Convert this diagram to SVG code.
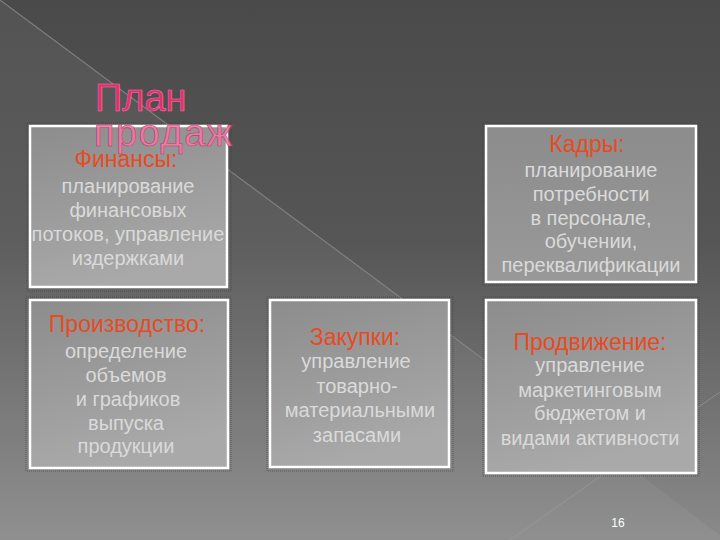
<svg xmlns="http://www.w3.org/2000/svg" width="720" height="540" viewBox="0 0 720 540">
  <defs>
    <linearGradient id="bg" x1="0" y1="0" x2="0" y2="1">
      <stop offset="0" stop-color="#4a4a4a"/>
      <stop offset="0.45" stop-color="#565656"/>
      <stop offset="1" stop-color="#8a8a8a"/>
    </linearGradient>
    <linearGradient id="boxfill" x1="0" y1="0" x2="0.3" y2="1">
      <stop offset="0" stop-color="#8c8c8c"/>
      <stop offset="1" stop-color="#a9a9a9"/>
    </linearGradient>
    <linearGradient id="boxfill2" x1="0" y1="0" x2="0" y2="1">
      <stop offset="0" stop-color="#8c8c8c"/>
      <stop offset="1" stop-color="#999999"/>
    </linearGradient>
  </defs>
  <style>
    .box { stroke: #ffffff; stroke-width: 2.5; }
    .shadow { fill: none; stroke: #3c3c3c; stroke-width: 1; stroke-dasharray: 1 1; opacity: 0.6; }
    .ttl { font-family: "Liberation Sans", Arial, sans-serif; font-size: 23px; fill: #e84a22; text-anchor: middle; }
    .body { font-family: "Liberation Sans", Arial, sans-serif; font-size: 20px; fill: #dadada; text-anchor: middle; }
    .head { font-family: "Liberation Sans", "DejaVu Sans", sans-serif; font-size: 38px; stroke-width: 0.6; }
  </style>

  <!-- background -->
  <rect x="0" y="0" width="720" height="540" fill="url(#bg)"/>
  <polygon points="0,0 720,535 720,540 0,540" fill="#ffffff" opacity="0.05"/>
  <line x1="0" y1="0" x2="720" y2="535" stroke="#8a8a8a" stroke-width="1.2" opacity="0.8"/>
  <line x1="720" y1="392" x2="510" y2="540" stroke="#a0a0a0" stroke-width="1" opacity="0.6"/>

  <!-- Финансы -->
  <g id="finance">
    <rect class="shadow" x="27" y="123" width="204" height="168"/>
    <rect class="box" x="30" y="126" width="197" height="161" fill="url(#boxfill)"/>
    <text class="ttl" x="126" y="167" font-size="22">Финансы:</text>
    <text class="body" x="128" y="193">планирование</text>
    <text class="body" x="128" y="217">финансовых</text>
    <text class="body" x="128" y="241">потоков, управление</text>
    <text class="body" x="128" y="265">издержками</text>
  </g>

  <!-- title -->
  <g id="title">
    <text class="head" x="95" y="111" fill="#d8336e" stroke="#ff70a4">План</text>
    <text class="head" x="94" y="146" fill="#f07aa6" stroke="#c03068" letter-spacing="1.5" opacity="0.9">продаж</text>
  </g>

  <!-- Кадры -->
  <g id="kadry">
    <rect class="shadow" x="483" y="123" width="216" height="162"/>
    <rect class="box" x="486" y="126" width="210" height="156" fill="url(#boxfill2)"/>
    <text class="ttl" x="587" y="152">Кадры:</text>
    <text class="body" x="591" y="177">планирование</text>
    <text class="body" x="591" y="201">потребности</text>
    <text class="body" x="591" y="225">в персонале,</text>
    <text class="body" x="591" y="248">обучении,</text>
    <text class="body" x="591" y="272">переквалификации</text>
  </g>

  <!-- Производство -->
  <g id="production">
    <rect class="shadow" x="26" y="297" width="205" height="174"/>
    <rect class="box" x="30" y="300" width="198" height="168" fill="url(#boxfill)"/>
    <text class="ttl" x="127" y="332">Производство:</text>
    <text class="body" x="126" y="358">определение</text>
    <text class="body" x="126" y="382">объемов</text>
    <text class="body" x="128" y="406">и графиков</text>
    <text class="body" x="126" y="430">выпуска</text>
    <text class="body" x="126" y="453">продукции</text>
  </g>

  <!-- Закупки -->
  <g id="zakupki">
    <rect class="shadow" x="267" y="297" width="186" height="174"/>
    <rect class="box" x="270" y="300" width="179" height="167" fill="url(#boxfill)"/>
    <text class="ttl" x="355" y="345">Закупки:</text>
    <text class="body" x="356" y="368">управление</text>
    <text class="body" x="357" y="393">товарно-</text>
    <text class="body" x="360" y="417">материальными</text>
    <text class="body" x="357" y="442">запасами</text>
  </g>

  <!-- Продвижение -->
  <g id="promotion">
    <rect class="shadow" x="483" y="297" width="216" height="179"/>
    <rect class="box" x="486" y="300" width="210" height="173" fill="url(#boxfill)"/>
    <text class="ttl" x="590" y="350">Продвижение:</text>
    <text class="body" x="590" y="372">управление</text>
    <text class="body" x="590" y="397">маркетинговым</text>
    <text class="body" x="590" y="420">бюджетом и</text>
    <text class="body" x="590" y="445">видами активности</text>
  </g>

  <text x="618" y="527" font-family="'Liberation Sans', Arial, sans-serif" font-size="12" fill="#ffffff" text-anchor="middle">16</text>
</svg>
